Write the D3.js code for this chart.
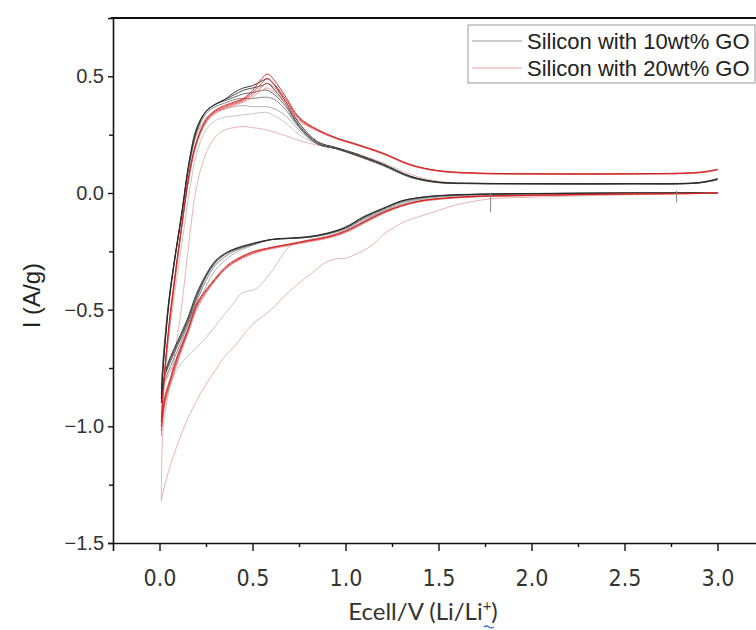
<!DOCTYPE html>
<html>
<head>
<meta charset="utf-8">
<script src="https://cdn.jsdelivr.net/npm/d3@7"></script>
<style>
	body { margin: 0; background: #fff; }
	svg { display: block; }
</style>
</head>
<body>
<div id="cv-chart"></div>
<script>
// voltage grids (V vs Li/Li+)
const vAnodic = [0.01, 0.02, 0.05, 0.08, 0.12, 0.16, 0.2, 0.25, 0.3, 0.35, 0.4, 0.45, 0.5, 0.55, 0.58, 0.62, 0.68, 0.75, 0.85, 0.95, 1.05, 1.2, 1.35, 1.5, 1.7, 2.0, 2.5, 2.9, 3.0];
const vCathodic = [3.0, 2.9, 2.5, 2.0, 1.7, 1.5, 1.4, 1.3, 1.2, 1.1, 1.0, 0.9, 0.8, 0.7, 0.6, 0.5, 0.4, 0.35, 0.3, 0.25, 0.2, 0.15, 0.1, 0.06, 0.03, 0.01];
const vCathodicFirst = [3.0, 2.9, 2.5, 2.0, 1.78, 1.6, 1.5, 1.4, 1.3, 1.2, 1.15, 1.1, 1.05, 1.0, 0.95, 0.9, 0.8, 0.7, 0.6, 0.52, 0.48, 0.44, 0.4, 0.35, 0.3, 0.25, 0.2, 0.15, 0.1, 0.05, 0.02, 0.01];

// Silicon with 10wt% GO, current (A/g)
const go10FirstCathodic = [0.0, 0.0, -0.003, -0.008, -0.012, -0.017, -0.022, -0.03, -0.05, -0.085, -0.1, -0.12, -0.14, -0.16, -0.175, -0.185, -0.2, -0.23, -0.34, -0.41, -0.42, -0.43, -0.47, -0.52, -0.57, -0.62, -0.66, -0.7, -0.75, -0.84, -0.93, -1.0];
const go10FirstAnodic = [-1.0, -0.86, -0.62, -0.44, -0.22, 0.0, 0.17, 0.27, 0.31, 0.325, 0.33, 0.335, 0.34, 0.345, 0.345, 0.33, 0.3, 0.25, 0.21, 0.19, 0.165, 0.12, 0.07, 0.046, 0.04, 0.04, 0.04, 0.044, 0.055];
const go10Cathodic = [
	[0.0, 0.0, -0.002, -0.005, -0.01, -0.018, -0.028, -0.045, -0.08, -0.115, -0.155, -0.178, -0.19, -0.195, -0.2, -0.225, -0.26, -0.29, -0.33, -0.4, -0.49, -0.59, -0.69, -0.76, -0.81, -0.83],
	[0.0, 0.0, -0.001, -0.004, -0.008, -0.015, -0.024, -0.04, -0.075, -0.11, -0.152, -0.176, -0.19, -0.195, -0.2, -0.222, -0.25, -0.275, -0.31, -0.375, -0.465, -0.57, -0.67, -0.74, -0.8, -0.84],
	[0.0, 0.0, 0.0, -0.003, -0.006, -0.012, -0.02, -0.036, -0.07, -0.105, -0.15, -0.175, -0.19, -0.195, -0.2, -0.22, -0.245, -0.265, -0.3, -0.36, -0.45, -0.56, -0.65, -0.72, -0.78, -0.86],
	[0.0, 0.0, 0.0, -0.003, -0.006, -0.012, -0.02, -0.035, -0.068, -0.103, -0.148, -0.174, -0.188, -0.194, -0.2, -0.218, -0.242, -0.262, -0.295, -0.355, -0.44, -0.55, -0.64, -0.71, -0.78, -0.9],
	[0.0, 0.0, 0.0, -0.002, -0.005, -0.011, -0.019, -0.034, -0.066, -0.1, -0.146, -0.172, -0.187, -0.193, -0.199, -0.216, -0.24, -0.26, -0.29, -0.35, -0.43, -0.54, -0.63, -0.7, -0.77, -0.88],
];
const go10Anodic = [
	[-0.83, -0.7, -0.46, -0.29, -0.1, 0.11, 0.25, 0.32, 0.35, 0.36, 0.37, 0.375, 0.37, 0.37, 0.37, 0.36, 0.33, 0.27, 0.21, 0.19, 0.162, 0.118, 0.066, 0.044, 0.04, 0.039, 0.039, 0.043, 0.056],
	[-0.84, -0.71, -0.46, -0.29, -0.09, 0.12, 0.26, 0.34, 0.37, 0.385, 0.4, 0.405, 0.405, 0.41, 0.41, 0.4, 0.355, 0.28, 0.21, 0.19, 0.163, 0.118, 0.067, 0.044, 0.04, 0.039, 0.039, 0.043, 0.057],
	[-0.86, -0.72, -0.47, -0.29, -0.09, 0.13, 0.27, 0.35, 0.38, 0.395, 0.41, 0.425, 0.43, 0.44, 0.44, 0.42, 0.37, 0.285, 0.21, 0.19, 0.165, 0.12, 0.068, 0.045, 0.04, 0.039, 0.039, 0.043, 0.058],
	[-0.9, -0.75, -0.48, -0.3, -0.09, 0.13, 0.27, 0.35, 0.38, 0.4, 0.42, 0.44, 0.45, 0.46, 0.47, 0.44, 0.38, 0.29, 0.215, 0.19, 0.165, 0.122, 0.07, 0.046, 0.041, 0.04, 0.04, 0.044, 0.06],
	[-0.88, -0.74, -0.47, -0.29, -0.08, 0.14, 0.28, 0.35, 0.38, 0.4, 0.43, 0.45, 0.46, 0.48, 0.49, 0.46, 0.39, 0.3, 0.22, 0.195, 0.17, 0.125, 0.072, 0.047, 0.042, 0.04, 0.04, 0.045, 0.062],
];

// Silicon with 20wt% GO, current (A/g)
const go20FirstCathodic = [0.0, -0.003, -0.008, -0.018, -0.025, -0.05, -0.075, -0.1, -0.13, -0.18, -0.22, -0.245, -0.265, -0.28, -0.282, -0.295, -0.355, -0.42, -0.5, -0.55, -0.58, -0.62, -0.66, -0.7, -0.76, -0.82, -0.89, -0.97, -1.07, -1.19, -1.28, -1.32];
const go20FirstAnodic = [-1.32, -1.0, -0.85, -0.7, -0.48, -0.2, 0.03, 0.17, 0.24, 0.27, 0.28, 0.285, 0.28, 0.275, 0.27, 0.26, 0.245, 0.225, 0.205, 0.19, 0.17, 0.13, 0.08, 0.05, 0.042, 0.04, 0.04, 0.045, 0.055];
const go20Cathodic = [
	[0.0, -0.002, -0.006, -0.012, -0.017, -0.028, -0.038, -0.058, -0.09, -0.13, -0.17, -0.195, -0.21, -0.225, -0.24, -0.262, -0.3, -0.33, -0.375, -0.43, -0.5, -0.61, -0.72, -0.82, -0.9, -1.04],
	[0.0, -0.002, -0.005, -0.011, -0.016, -0.026, -0.036, -0.056, -0.087, -0.127, -0.167, -0.192, -0.207, -0.222, -0.237, -0.258, -0.297, -0.327, -0.372, -0.425, -0.49, -0.6, -0.71, -0.81, -0.89, -1.02],
	[0.0, -0.002, -0.005, -0.01, -0.015, -0.025, -0.035, -0.055, -0.085, -0.125, -0.165, -0.19, -0.205, -0.22, -0.235, -0.255, -0.295, -0.325, -0.37, -0.42, -0.48, -0.6, -0.7, -0.8, -0.88, -1.0],
	[0.0, -0.001, -0.004, -0.009, -0.014, -0.024, -0.034, -0.053, -0.083, -0.122, -0.162, -0.188, -0.203, -0.218, -0.233, -0.252, -0.29, -0.32, -0.365, -0.415, -0.475, -0.59, -0.69, -0.79, -0.87, -0.98],
];
const go20Anodic = [
	[-1.04, -0.88, -0.6, -0.4, -0.15, 0.07, 0.21, 0.3, 0.34, 0.36, 0.375, 0.39, 0.41, 0.44, 0.45, 0.43, 0.38, 0.31, 0.265, 0.232, 0.207, 0.167, 0.118, 0.093, 0.083, 0.08, 0.08, 0.086, 0.098],
	[-1.02, -0.86, -0.59, -0.39, -0.145, 0.075, 0.215, 0.305, 0.345, 0.365, 0.38, 0.395, 0.42, 0.455, 0.47, 0.45, 0.39, 0.315, 0.268, 0.234, 0.209, 0.169, 0.12, 0.094, 0.084, 0.081, 0.081, 0.087, 0.099],
	[-1.0, -0.85, -0.58, -0.38, -0.14, 0.08, 0.22, 0.31, 0.35, 0.37, 0.385, 0.4, 0.43, 0.47, 0.49, 0.465, 0.4, 0.32, 0.27, 0.235, 0.21, 0.17, 0.12, 0.095, 0.085, 0.082, 0.082, 0.088, 0.1],
	[-0.98, -0.84, -0.57, -0.37, -0.135, 0.085, 0.225, 0.315, 0.355, 0.375, 0.39, 0.405, 0.44, 0.49, 0.51, 0.48, 0.41, 0.325, 0.272, 0.237, 0.212, 0.172, 0.122, 0.096, 0.086, 0.083, 0.083, 0.089, 0.102],
];

// small vertical marks on the baseline (V, from A/g, to A/g)
const markV = [1.78, 2.78];
const markTop = [0.0, 0.01];
const markBottom = [-0.083, -0.04];

const go10Colors = ["#a8a8a8", "#7a7a7a", "#555", "#3a3a3a", "#222"];
const go20Colors = ["#ee9090", "#e06060", "#d83a3a", "#cc2020"];
const legendLabels = ["Silicon with 10wt% GO", "Silicon with 20wt% GO"];
const xTicks = [0, 0.5, 1, 1.5, 2, 2.5, 3];
const yTicks = [-1.5, -1, -0.5, 0, 0.5];

const size = { w: 756, h: 630 };
const margin = { t: 18, l: 113, b: 543, r: 764 };

const svg = d3
	.select("#cv-chart")
	.append("svg")
	.attr("width", size.w)
	.attr("height", size.h);

const x = d3.scaleLinear().domain([-0.25, 3.25]).range([margin.l, margin.r]);
const y = d3.scaleLinear().domain([-1.5, 0.75]).range([margin.b, margin.t]);

svg.append("defs")
	.append("clipPath")
	.attr("id", "plot-clip")
	.append("rect")
	.attr("x", margin.l)
	.attr("y", margin.t)
	.attr("width", margin.r - margin.l)
	.attr("height", margin.b - margin.t);

const line = d3
	.line()
	.x((d) => x(d[0]))
	.y((d) => y(d[1]))
	.curve(d3.curveCatmullRom.alpha(0.5));

function cycle(vc, cath, va, an) {
	return vc.map((v, k) => [v, cath[k]]).concat(va.map((v, k) => [v, an[k]]));
}

const curvesG = svg.append("g").attr("clip-path", "url(#plot-clip)");

const curves = [];
curves.push({ pts: cycle(vCathodicFirst, go10FirstCathodic, vAnodic, go10FirstAnodic), color: "#b8b8b8", w: 0.9 });
curves.push({ pts: cycle(vCathodicFirst, go20FirstCathodic, vAnodic, go20FirstAnodic), color: "#e4a2a2", w: 0.9 });
go10Cathodic.forEach((c, k) => {
	curves.push({ pts: cycle(vCathodic, c, vAnodic, go10Anodic[k]), color: go10Colors[k], w: 1 });
});
go20Cathodic.forEach((c, k) => {
	curves.push({ pts: cycle(vCathodic, c, vAnodic, go20Anodic[k]), color: go20Colors[k], w: 1 });
});

curvesG
	.selectAll("path.cv")
	.data(curves)
	.join("path")
	.attr("class", "cv")
	.attr("fill", "none")
	.attr("stroke", (d) => d.color)
	.attr("stroke-width", (d) => d.w)
	.attr("stroke-opacity", 0.9)
	.attr("d", (d) => line(d.pts));

curvesG
	.selectAll("line.mark")
	.data(markV)
	.join("line")
	.attr("class", "mark")
	.attr("x1", (d) => x(d))
	.attr("x2", (d) => x(d))
	.attr("y1", (d, k) => y(markTop[k]))
	.attr("y2", (d, k) => y(markBottom[k]))
	.attr("stroke", "#888")
	.attr("stroke-width", 1);

// axes
const xAxis = d3.axisBottom(x).tickValues(xTicks).tickSize(8).tickFormat(d3.format(".1f"));
const xMinor = d3.axisBottom(x).tickValues([0.25, 0.75, 1.25, 1.75, 2.25, 2.75]).tickSize(4).tickFormat("");
const yAxis = d3.axisLeft(y).tickValues(yTicks).tickSize(5).tickFormat((d) => d3.format(".1f")(d).replace("-", "\u2212"));
const yMinor = d3.axisLeft(y).tickValues([-1.25, -0.75, -0.25, 0.25]).tickSize(4).tickFormat("");

const xg = svg.append("g").attr("transform", `translate(0,${margin.b})`).call(xAxis);
svg.append("g").attr("transform", `translate(0,${margin.b})`).call(xMinor).select(".domain").remove();
const yg = svg.append("g").attr("transform", `translate(${margin.l},0)`).call(yAxis);
svg.append("g").attr("transform", `translate(${margin.l},0)`).call(yMinor).select(".domain").remove();

xg.select(".domain").attr("stroke", "#111").attr("stroke-width", 1.6);
yg.select(".domain").attr("stroke", "#111").attr("stroke-width", 1.6);
svg.selectAll(".tick line").attr("stroke", "#111").attr("stroke-width", 1.4);

xg.selectAll(".tick text")
	.attr("dy", null)
	.attr("y", 43)
	.attr("fill", "#333")
	.style("font-family", "'Liberation Sans Narrow', 'DejaVu Sans Condensed', sans-serif")
	.style("font-size", "23px");
yg.selectAll(".tick text")
	.attr("x", -9)
	.attr("fill", "#333")
	.style("font-family", "'Liberation Sans', Arial, sans-serif")
	.style("font-size", "20px");

// top frame
svg.append("line")
	.attr("x1", margin.l - 2)
	.attr("x2", size.w)
	.attr("y1", margin.t)
	.attr("y2", margin.t)
	.attr("stroke", "#111")
	.attr("stroke-width", 1.8);

// axis titles
svg.append("text")
	.attr("transform", `translate(40, ${y(-0.44)}) rotate(-90)`)
	.attr("text-anchor", "middle")
	.attr("fill", "#222")
	.style("font-family", "'Liberation Sans', Arial, sans-serif")
	.style("font-size", "24px")
	.text("I (A/g)");

const xTitle = svg.append("text")
	.attr("x", 423)
	.attr("y", 620)
	.attr("text-anchor", "middle")
	.attr("fill", "#333")
	.style("font-family", "Lato, 'Open Sans', sans-serif")
	.style("font-size", "24px");
xTitle.append("tspan").text("Ecell/V (Li/Li");
xTitle.append("tspan").attr("dy", -9).style("font-size", "15px").text("+");
xTitle.append("tspan").attr("dy", 9).text(")");

svg.append("path")
	.attr("d", "M484,627 q2.5,-2 5,0 q2.5,2 5,0")
	.attr("fill", "none")
	.attr("stroke", "#3b6fd6")
	.attr("stroke-width", 1.3);

// legend
const legend = svg.append("g").attr("transform", "translate(468,25)");
legend.append("rect")
	.attr("width", 287)
	.attr("height", 58)
	.attr("fill", "#fff")
	.attr("stroke", "#999")
	.attr("stroke-width", 1);
legend.selectAll("line")
	.data(legendLabels)
	.join("line")
	.attr("x1", 4)
	.attr("x2", 54)
	.attr("y1", (d, k) => 16 + k * 27)
	.attr("y2", (d, k) => 16 + k * 27)
	.attr("stroke", (d, k) => (k === 0 ? "#999" : "#ec9fa6"))
	.attr("stroke-width", 1);
legend.selectAll("text")
	.data(legendLabels)
	.join("text")
	.attr("x", 59)
	.attr("y", (d, k) => 16 + k * 27)
	.attr("dy", "0.35em")
	.attr("fill", "#222")
	.style("font-family", "'Liberation Sans', Arial, sans-serif")
	.style("font-size", "22px")
	.text((d) => d);
</script>
</body>
</html>
